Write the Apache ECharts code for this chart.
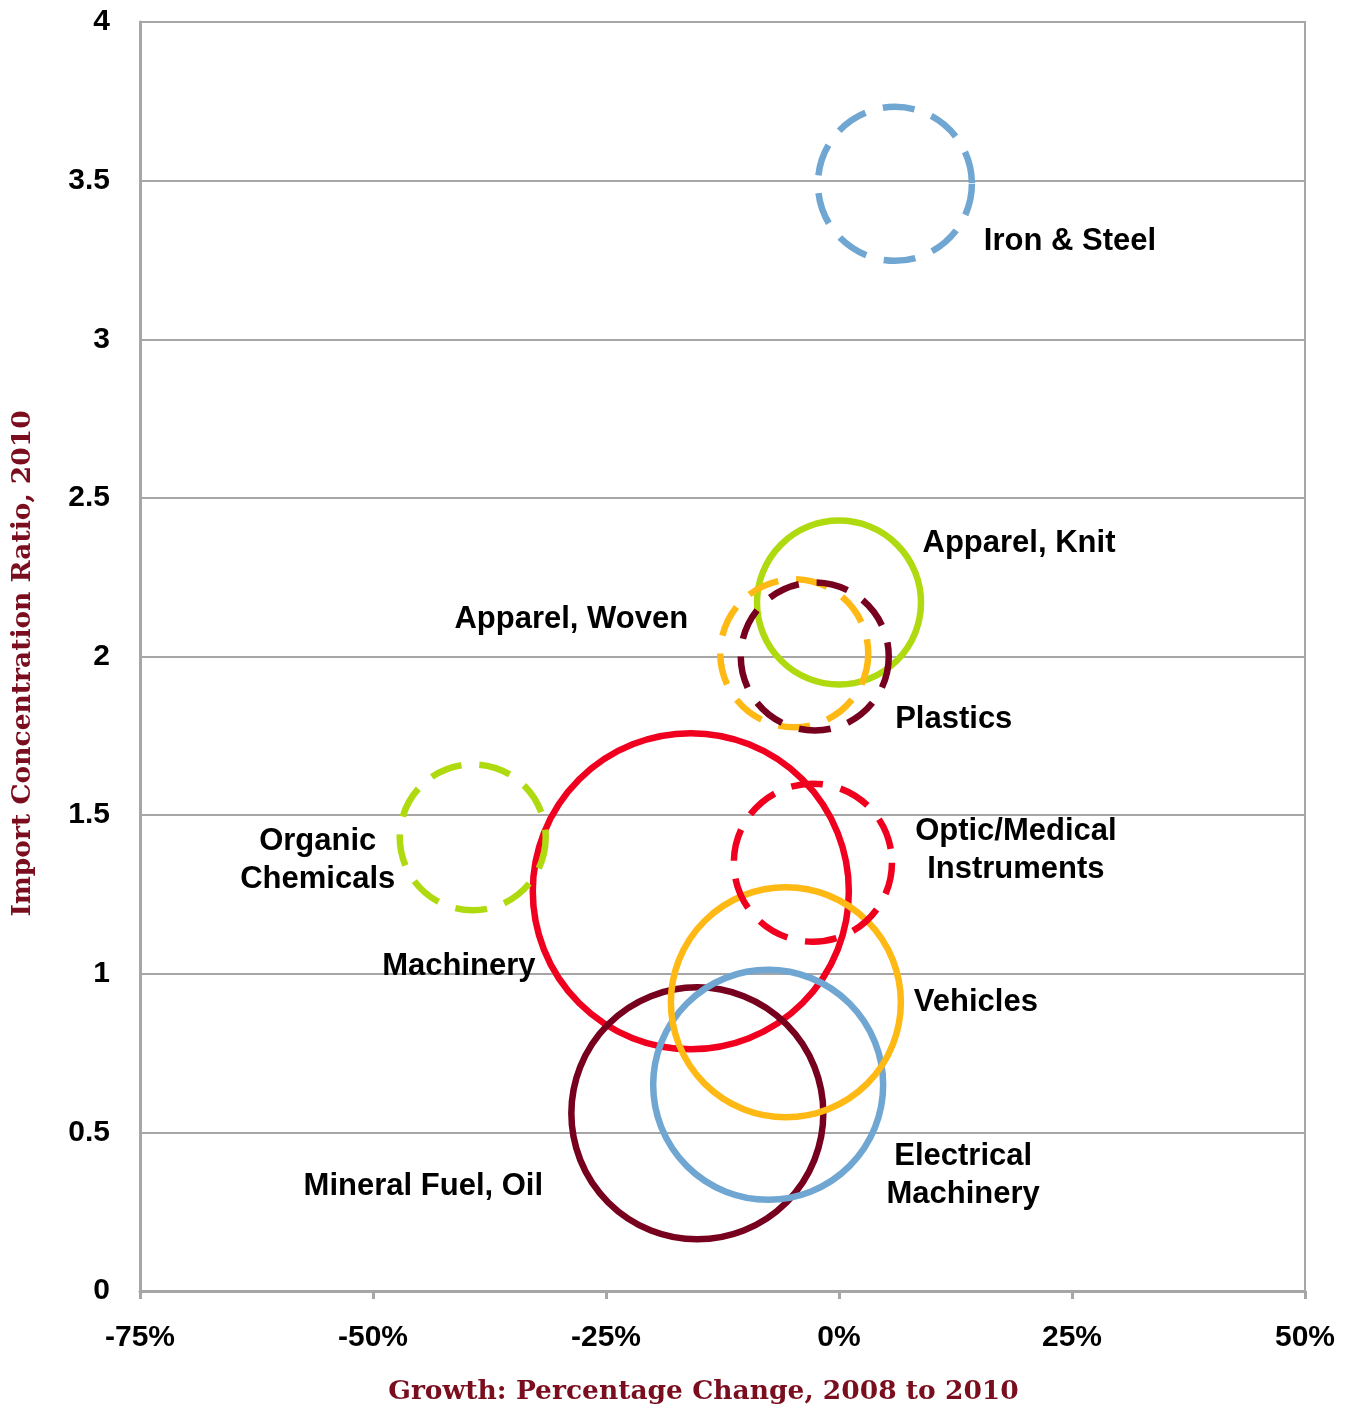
<!DOCTYPE html>
<html>
<head>
<meta charset="utf-8">
<script src="https://cdn.jsdelivr.net/npm/echarts@6/dist/echarts.min.js"></script>
<style>
html,body{margin:0;padding:0;background:#fff;}
#chart{width:1353px;height:1408px;}
</style>
</head>
<body>
<div id="chart"></div>
<script>
// ---- Data ----
const categories = ['Machinery', 'Mineral Fuel, Oil', 'Electrical\nMachinery', 'Vehicles', 'Optic/Medical\nInstruments', 'Organic\nChemicals', 'Apparel, Knit', 'Apparel, Woven', 'Plastics', 'Iron & Steel'];
const growthPct = [-15.9, -15.2, -7.6, -5.7, -2.8, -39.3, 0.0, -4.8, -2.6, 6.0];
const concentration = [1.26, 0.56, 0.65, 0.91, 1.35, 1.43, 2.17, 2.01, 2.00, 3.49];
const bubbleValue = [999, 635, 529, 529, 250, 213, 269, 219, 219, 237];
const xTicks = [-75, -50, -25, 0, 25, 50];
const yTicks = [0, 0.5, 1, 1.5, 2, 2.5, 3, 3.5, 4];

// ---- Styles ----
const colors = ['#F0001E', '#76001E', '#6FA6D2', '#FFB914', '#F0001E', '#B0DA10', '#B0DA10', '#FFB914', '#76001E', '#6FA6D2'];
const dashed = [false, false, false, false, true, true, false, true, true, true];
const labelOffsets = [[-232, 75], [-274, 73], [195, 91], [190, 0], [203, -12], [-155, 23], [180, -59], [-223, -34], [139, 63], [175, 58]];

const series = categories.map((name, i) => ({
  type: 'scatter',
  name: name,
  z: 2 + i,
  symbol: 'circle',
  symbolSize: (v) => 10 * Math.sqrt(v[2]),
  itemStyle: {
    color: 'rgba(0,0,0,0)',
    borderColor: colors[i],
    borderWidth: 6.5,
    borderType: dashed[i] ? [32, 18] : 'solid',
    opacity: 1
  },
  label: {
    show: true,
    position: 'inside',
    offset: labelOffsets[i],
    formatter: name,
    color: '#000',
    fontFamily: '"Liberation Sans", Arial, sans-serif',
    fontWeight: 'bold',
    fontSize: 31,
    lineHeight: 38,
    align: 'center'
  },
  emphasis: { disabled: true },
  data: [[growthPct[i], concentration[i], bubbleValue[i]]]
}));

const chart = echarts.init(document.getElementById('chart'), null, { renderer: 'canvas' });
chart.setOption({
  animation: false,
  backgroundColor: '#fff',
  grid: { left: 140, right: 48, top: 22, bottom: 117, containLabel: false, outerBoundsMode: 'none', show: true, borderColor: '#A6A6A6', borderWidth: 2, backgroundColor: 'transparent' },
  xAxis: {
    type: 'value',
    min: xTicks[0], max: xTicks[xTicks.length - 1], interval: 25,
    name: 'Growth: Percentage Change, 2008 to 2010',
    nameLocation: 'middle',
    nameGap: 88,
    nameTextStyle: { fontFamily: '"DejaVu Serif", serif', fontWeight: 'bold', fontSize: 26.5, color: '#7A0E1E', padding: [0, 38, 0, 0] },
    axisLine: { show: true, onZero: false, lineStyle: { color: '#A6A6A6', width: 3 } },
    axisTick: { show: true, length: 8, lineStyle: { color: '#A6A6A6', width: 3 } },
    splitLine: { show: false },
    axisLabel: { margin: 32, formatter: v => v + '%', color: '#000', fontFamily: '"Liberation Sans", Arial, sans-serif', fontWeight: 'bold', fontSize: 30 }
  },
  yAxis: {
    type: 'value',
    min: yTicks[0], max: yTicks[yTicks.length - 1], interval: 0.5,
    name: 'Import Concentration Ratio, 2010',
    nameLocation: 'middle',
    nameGap: 103,
    nameTextStyle: { fontFamily: '"DejaVu Serif", serif', fontWeight: 'bold', fontSize: 26.5, color: '#7A0E1E', padding: [0, 14, 0, 0] },
    axisLine: { show: true, onZero: false, lineStyle: { color: '#A6A6A6', width: 3 } },
    axisTick: { show: false },
    splitLine: { show: true, lineStyle: { color: '#A6A6A6', width: 2 } },
    axisLabel: { margin: 30, color: '#000', fontFamily: '"Liberation Sans", Arial, sans-serif', fontWeight: 'bold', fontSize: 30 }
  },
  series: series
});
</script>
</body>
</html>
